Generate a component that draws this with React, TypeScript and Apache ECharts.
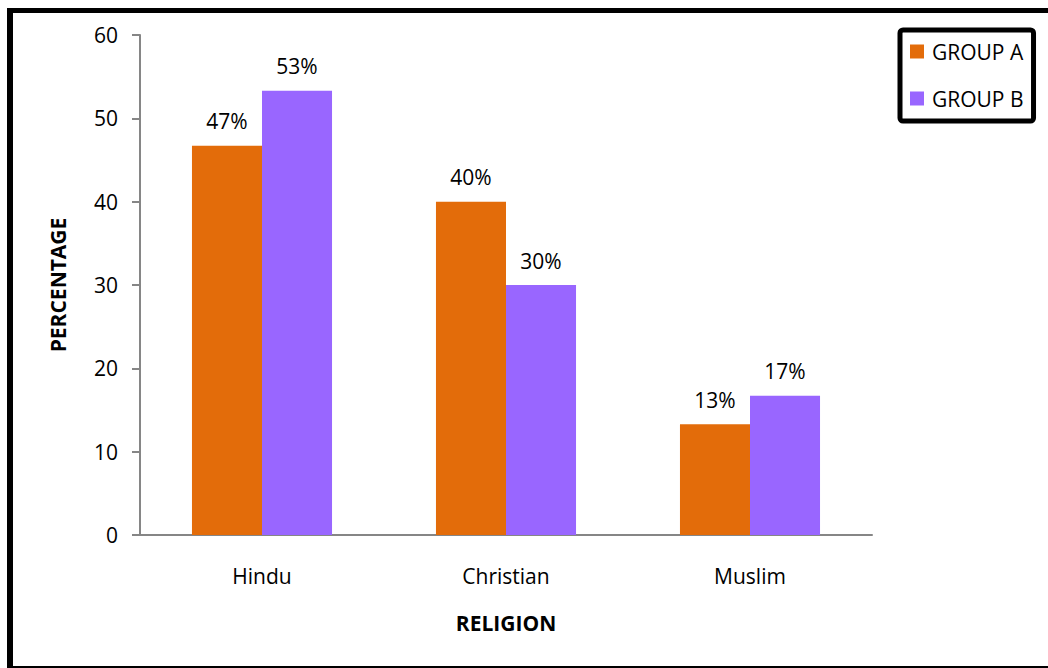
import React, { useEffect, useRef } from "react";
import * as echarts from "echarts";

const categories = ["Hindu", "Christian", "Muslim"];
const groupA = [46.7, 40, 13.3];
const groupB = [53.3, 30, 16.7];
const seriesNames = ["GROUP A", "GROUP B"];
const yTicks = { min: 0, max: 60, interval: 10 };

const FONT = "'Open Sans', 'Noto Sans', sans-serif";

export default function App() {
  const ref = useRef<HTMLDivElement>(null);
  useEffect(() => {
    const chart = echarts.init(ref.current!, null, { renderer: "svg" });
    const label = {
      show: true,
      position: "top",
      distance: 14,
      fontFamily: FONT,
      fontSize: 21,
      color: "#000",
      formatter: (p: any) => Math.round(p.value) + "%",
    };
    chart.setOption({
      animation: false,
      backgroundColor: "#fff",
      grid: { left: 140, right: 176, top: 35, bottom: 133 },
      legend: {
        orient: "vertical",
        left: 900,
        top: 30,
        padding: [11, 10, 12, 10],
        itemWidth: 14,
        itemHeight: 14,
        itemGap: 26,
        icon: "rect",
        borderColor: "#000",
        borderWidth: 5,
        borderRadius: 3,
        textStyle: { fontFamily: FONT, fontSize: 21, color: "#000", padding: [0, 0, 0, 3] },
        data: seriesNames,
      },
      xAxis: {
        type: "category",
        data: categories,
        name: "RELIGION",
        nameLocation: "middle",
        nameGap: 77,
        nameTextStyle: { fontFamily: FONT, fontSize: 21, fontWeight: "bold", color: "#000" },
        axisLine: { lineStyle: { color: "#868686", width: 2 } },
        axisTick: { show: false },
        axisLabel: { fontFamily: FONT, fontSize: 21, color: "#000", margin: 30 },
      },
      yAxis: {
        type: "value",
        min: yTicks.min,
        max: yTicks.max,
        interval: yTicks.interval,
        name: "PERCENTAGE",
        nameLocation: "middle",
        nameGap: 72,
        nameRotate: 90,
        nameTextStyle: { fontFamily: FONT, fontSize: 21, fontWeight: "bold", color: "#000" },
        axisLine: { show: true, lineStyle: { color: "#868686", width: 2 } },
        axisTick: { show: true, length: 8, lineStyle: { color: "#868686", width: 2 } },
        splitLine: { show: false },
        axisLabel: { fontFamily: FONT, fontSize: 21, color: "#000", margin: 22 },
      },
      series: [
        {
          name: seriesNames[0],
          type: "bar",
          data: groupA,
          barGap: "0%",
          barCategoryGap: "42.6%",
          itemStyle: { color: "#E36C0A" },
          label,
        },
        {
          name: seriesNames[1],
          type: "bar",
          data: groupB,
          barGap: "0%",
          barCategoryGap: "42.6%",
          itemStyle: { color: "#9966FF" },
          label,
        },
      ],
      graphic: [
        { type: "rect", shape: { x: 7, y: 8, width: 6, height: 660 }, style: { fill: "#000" }, silent: true },
        { type: "rect", shape: { x: 7, y: 8, width: 1041, height: 5 }, style: { fill: "#000" }, silent: true },
        { type: "rect", shape: { x: 7, y: 666, width: 1041, height: 2 }, style: { fill: "#000" }, silent: true },
      ],
    });
    return () => chart.dispose();
  }, []);
  return (
    <div
      ref={ref}
      style={{ position: "absolute", left: 0, top: 0, width: 1048, height: 668 }}
    />
  );
}
